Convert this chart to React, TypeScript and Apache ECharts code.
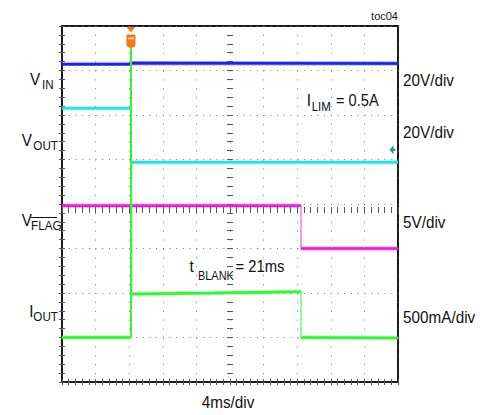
import React, { useEffect, useRef } from "react";
import * as echarts from "echarts";

// time axis: 4 ms/div, 10 divisions; vertical axis in screen divisions (8)
const X_MIN = 0;
const X_MAX = 40;
const X_STEP = 4;
const Y_MIN = 0;
const Y_MAX = 8;
const Y_STEP = 1;

const vinTrace = [[0, 7.14], [8.21, 7.14], [8.21, 7.17], [40, 7.16]];
const voutTrace = [[0, 6.15], [8.2, 6.15], ["-", "-"], [8.24, 4.94], [40, 4.94]];
const flagLevels = [[0, 3.96], [28.45, 3.96], ["-", "-"], [28.45, 3.0], [40, 3.0]];
const flagEdge = [[28.45, 3.96], [28.45, 3.0]];
const ioutLevels = [[0, 1.0], [8.21, 1.0], ["-", "-"], [8.25, 1.98], [18, 2.0], [28.45, 2.03], ["-", "-"], [28.45, 1.0], [40, 0.99]];
const ioutSpike = [[8.21, 1.0], [8.21, 7.8], [8.25, 1.98]];
const ioutEdge = [[28.45, 2.03], [28.45, 1.0]];
const triggerMark = [8.21, 7.75];
const triggerBar = [8.21, 7.72];
const groundMark = [39.35, 5.22];

const rightLabels = ["20V/div", "20V/div", "5V/div", "500mA/div"];
const xLabel = "4ms/div";
const figTag = "toc04";

const FAMILY = "'Liberation Sans', Arial, Helvetica, sans-serif";
const SX = 0.9;

function txt(text: string, x: number, baseline: number, size: number, align = "left", scale = SX) {
  return {
    type: "text",
    x,
    y: baseline - 0.35 * size,
    scaleX: scale,
    silent: true,
    style: {
      text,
      font: `${size}px ${FAMILY}`,
      fill: "#111",
      textAlign: align,
      align,
      textVerticalAlign: "middle",
      verticalAlign: "middle",
    },
  };
}

export default function App() {
  const ref = useRef<HTMLDivElement>(null);
  useEffect(() => {
    if (!ref.current) return;
    const chart = echarts.init(ref.current, undefined, { renderer: "svg" });
    const tick = (inside: boolean, len: number) => ({
      axisTick: { show: true, inside, length: len, lineStyle: { color: "#555", width: 1 } },
      minorTick: { show: true, splitNumber: 5, length: len, lineStyle: { color: "#555", width: 1 } },
    });
    const xBase = {
      type: "value",
      min: X_MIN,
      max: X_MAX,
      interval: X_STEP,
      axisLine: { show: false },
      axisLabel: { show: false },
      splitLine: { show: false },
    };
    const yBase = {
      type: "value",
      min: Y_MIN,
      max: Y_MAX,
      interval: Y_STEP,
      axisLine: { show: false },
      axisLabel: { show: false },
      splitLine: { show: false },
    };
    const lineS = (data: any, color: string, width: number, z = 2, blur = 0) => ({
      type: "line",
      data,
      xAxisIndex: 0,
      yAxisIndex: 0,
      symbol: "none",
      showSymbol: false,
      silent: true,
      connectNulls: false,
      lineStyle: blur
        ? { color, width, shadowColor: color, shadowBlur: blur }
        : { color, width },
      itemStyle: { color },
      z,
    });
    const option: any = {
      animation: false,
      backgroundColor: "#fff",
      grid: {
        left: 62,
        top: 26,
        width: 336,
        height: 356,
        show: true,
        borderColor: "#1a1a1a",
        borderWidth: 2,
        backgroundColor: "transparent",
      },
      xAxis: [
        {
          ...xBase,
          position: "bottom",
          ...tick(true, 3),
          splitLine: { show: true, lineStyle: { color: "#777", width: 1, type: [1, 7.9] } },
        },
        { ...xBase, position: "top", ...tick(true, 3) },
        { ...xBase, position: "bottom", offset: -181, ...tick(false, 6) },
      ],
      yAxis: [
        {
          ...yBase,
          position: "left",
          ...tick(true, 3),
          splitLine: { show: true, lineStyle: { color: "#777", width: 1, type: [1, 5.72] } },
        },
        { ...yBase, position: "right", ...tick(true, 3) },
        { ...yBase, position: "left", offset: -171, ...tick(false, 6) },
      ],
      series: [
        lineS(vinTrace, "#2222d8", 2.5, 2, 2),
        {
          ...lineS(voutTrace, "#30dce2", 2.5, 2, 2),
          markPoint: {
            silent: true,
            label: { show: false },
            data: [
              {
                coord: groundMark,
                symbol: "path://M0,4.5 L4,0 L4,3.5 L6,3.5 L6,5.5 L4,5.5 L4,9 Z",
                symbolSize: [6, 9],
                itemStyle: { color: "#1a9a9e" },
              },
            ],
          },
        },
        lineS(flagLevels, "#d82ad0", 2.5, 2, 2),
        lineS(flagEdge, "#e060e0", 1.2),
        lineS(ioutLevels, "#40ec40", 2.5, 2, 2),
        lineS(ioutEdge, "#60f060", 1.2),
        {
          ...lineS(ioutSpike, "#40ec40", 2, 3),
          markPoint: {
            silent: true,
            label: { show: false },
            data: [
              {
                coord: triggerMark,
                symbol:
                  "path://M0,0 L9,0 L4.5,6 Z M1,8 L8,8 Q9,8 9,9 L9,18 Q9,21 4.5,21 Q0,21 0,18 L0,9 Q0,8 1,8 Z",
                symbolSize: [9, 21],
                itemStyle: { color: "#f07818" },
              },
              {
                coord: triggerBar,
                symbol: "rect",
                symbolSize: [6, 1.5],
                itemStyle: { color: "#ffe0c0" },
              },
            ],
          },
        },
      ],
      graphic: [
        txt(figTag, 398, 19.5, 11, "right", 1),
        txt("V", 30, 85, 17),
        txt("IN", 42, 89.5, 13),
        txt("V", 21.7, 146, 17),
        txt("OUT", 33.3, 150.7, 13),
        txt("V", 21.7, 226, 17),
        txt("FLAG", 31, 230, 13),
        {
          type: "line",
          silent: true,
          shape: { x1: 31, y1: 217.5, x2: 57, y2: 217.5 },
          style: { stroke: "#111", lineWidth: 1 },
        },
        txt("I", 29.3, 316.7, 17),
        txt("OUT", 33.3, 321.7, 13),
        txt("I", 306.7, 106, 17),
        txt("LIM", 311.7, 111, 13, "left", 0.88),
        txt("= 0.5A", 336, 106, 17, "left", 0.86),
        txt("t", 189.5, 271.7, 17),
        txt("BLANK", 198, 280, 13, "left", 0.84),
        txt("= 21ms", 235.5, 271.7, 17, "left", 0.87),
        txt(rightLabels[0], 403, 86, 17),
        txt(rightLabels[1], 403, 138, 17),
        txt(rightLabels[2], 403, 228, 17),
        txt(rightLabels[3], 403, 323, 17),
        txt(xLabel, 228, 408, 17, "center"),
      ],
    };
    chart.setOption(option);
    return () => chart.dispose();
  }, []);
  return (
    <div
      ref={ref}
      style={{ position: "fixed", left: 0, top: 0, width: 482, height: 415, background: "#fff" }}
    />
  );
}
